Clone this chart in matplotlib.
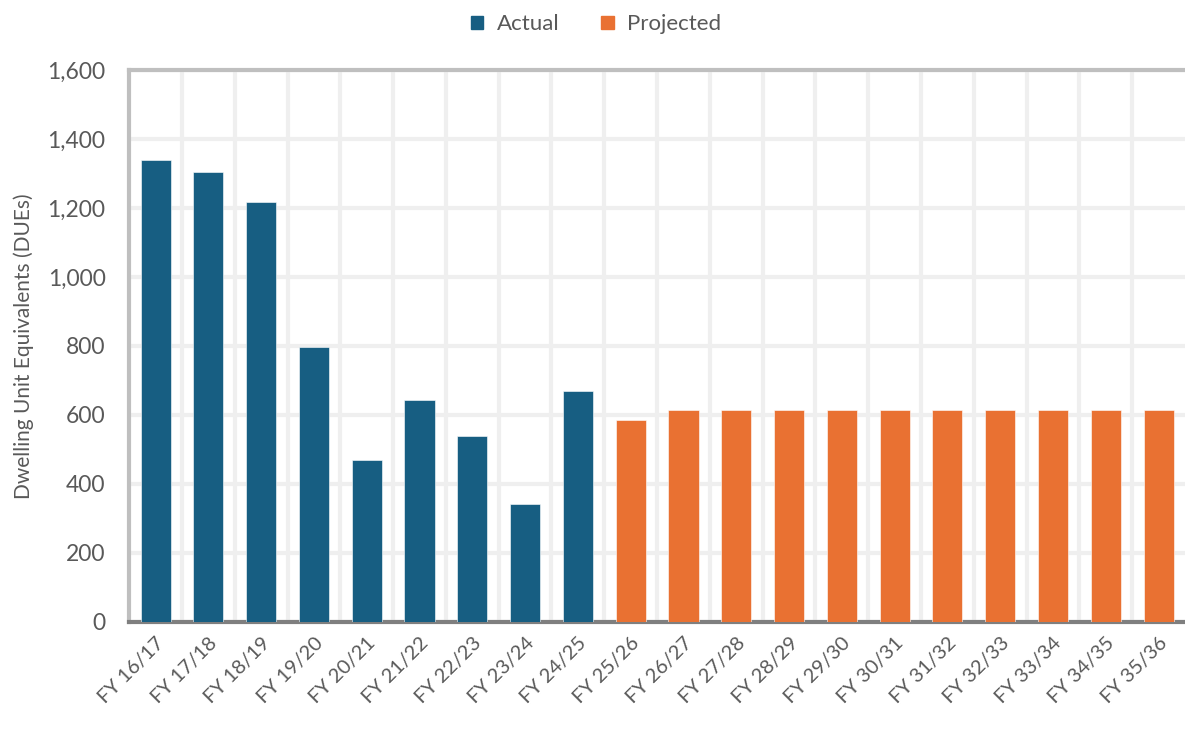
import matplotlib.pyplot as plt
from matplotlib.patches import Patch
from matplotlib.ticker import FuncFormatter, MultipleLocator
import numpy as np

plt.rcParams['font.family'] = ['Lato', 'DejaVu Sans']

years = ["FY 16/17", "FY 17/18", "FY 18/19", "FY 19/20", "FY 20/21", "FY 21/22",
         "FY 22/23", "FY 23/24", "FY 24/25", "FY 25/26", "FY 26/27", "FY 27/28",
         "FY 28/29", "FY 29/30", "FY 30/31", "FY 31/32", "FY 32/33", "FY 33/34",
         "FY 34/35", "FY 35/36"]
actual = [1339, 1304, 1217, 798, 469, 642, 538, 342, 670]
projected = [585, 614, 614, 614, 614, 614, 614, 614, 614, 614, 614]

blue = "#175E82"
orange = "#E97132"
text_col = "#595959"

fig = plt.figure(figsize=(11.85, 7.29), dpi=100)
ax = fig.add_axes([0.109, 0.147, 0.891, 0.757])

x = np.arange(len(years))
n_act = len(actual)
ax.bar(x[:n_act], actual, width=0.57, color=blue, edgecolor="white", linewidth=0.4, zorder=3)
ax.bar(x[n_act:], projected, width=0.57, color=orange, edgecolor="white", linewidth=0.4, zorder=3)

ax.set_xlim(-0.5, len(years) - 0.5)
ax.set_ylim(0, 1600)
ax.yaxis.set_major_locator(MultipleLocator(200))
ax.yaxis.set_major_formatter(FuncFormatter(lambda v, p: f"{int(v):,}"))

ax.set_xticks(x)
ax.set_xticklabels(years, rotation=45, ha="right", rotation_mode="anchor",
                   fontsize=14.5, color=text_col)
ax.set_xticks(x[:-1] + 0.5, minor=True)
ax.tick_params(axis="x", which="both", length=0, pad=9)
ax.tick_params(axis="y", length=0, labelsize=16.5, labelcolor=text_col, pad=17)

ax.grid(axis="y", which="major", color="#EFEFEF", linewidth=3, zorder=0)
ax.grid(axis="x", which="minor", color="#EFEFEF", linewidth=3, zorder=0)

for side in ["top", "left"]:
    ax.spines[side].set_color("#BFBFBF")
    ax.spines[side].set_linewidth(3)
ax.spines["bottom"].set_color("#7F7F7F")
ax.spines["bottom"].set_linewidth(3)
ax.spines["right"].set_visible(False)

ax.set_ylabel("Dwelling Unit Equivalents (DUEs)", fontsize=15, color=text_col, labelpad=10)

handles = [Patch(color=blue, label="Actual"), Patch(color=orange, label="Projected")]
fig.legend(handles=handles, loc="upper center", bbox_to_anchor=(0.503, 1.008), ncol=2,
           frameon=False, fontsize=16, labelcolor=text_col, handlelength=0.55,
           handleheight=0.55, handletextpad=0.6, columnspacing=1.9)

fig.savefig("out.png", dpi=100)
